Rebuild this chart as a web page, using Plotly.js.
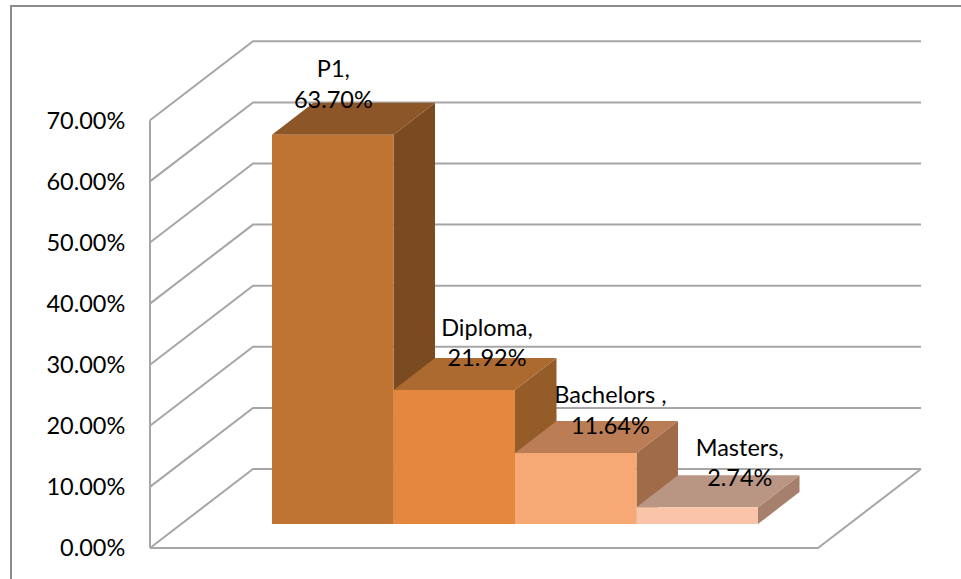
<!DOCTYPE html>
<html><head><meta charset="utf-8">
<script src="https://cdn.plot.ly/plotly-3.0.1.min.js"></script>
<style>html,body{margin:0;padding:0;background:#fff}#c{width:961px;height:579px}</style>
</head><body><div id="c"></div>
<script>
// ---- data
const categories = ['P1,', 'Diploma,', 'Bachelors ,', 'Masters,'];
const values = [63.70, 21.92, 11.64, 2.74];
const tickVals = [0, 10, 20, 30, 40, 50, 60, 70];
const tickLabels = ['0.00%', '10.00%', '20.00%', '30.00%', '40.00%', '50.00%', '60.00%', '70.00%'];
const frontColors = ['#BF7434', '#E5883F', '#F6A875', '#FAC4A8'];
const topColors = ['#8D5628', '#AD6A30', '#BB7D55', '#B99583'];
const sideColors = ['#7A4A20', '#945C29', '#A06B48', '#A67F6D'];

// ---- oblique projection, in axis units (x: one bar slot, y: percent points)
const W = 961, H = 579, pxPerSlot = 121.5, pxPerPct = 6.11, zeroPx = 548, barLeftPx = 272;
const toX = px => (px - barLeftPx) / pxPerSlot;
const depthX = 103 / pxPerSlot, depthY = 79 / pxPerPct;
const barDepthX = 41.5 / pxPerSlot, barDepthY = 32 / pxPerPct;
const wallLeft = toX(150), wallRight = toX(818);
const barBase = 24 / pxPerPct;
const labelLift = [48, 45, 40, 42].map(p => p / pxPerPct);
const labelShift = [0.005, 0.27, 0.285, 0.35];
const ink = '#000000', gridColor = '#A6A6A6', fontName = 'Lato, Carlito, sans-serif', fontSize = 23.5;

const traces = [];
// walls, floor and gridlines
const gx = [], gy = [];
tickVals.forEach(v => {
  gx.push(wallLeft, wallLeft + depthX, wallRight + depthX, null);
  gy.push(v, v + depthY, v + depthY, null);
});
gx.push(wallLeft, wallLeft, null, wallLeft, wallRight, wallRight + depthX);
gy.push(0, tickVals[tickVals.length - 1], null, 0, 0, depthY);
traces.push({x: gx, y: gy, mode: 'lines', line: {color: gridColor, width: 2}, hoverinfo: 'skip', showlegend: false, cliponaxis: false});

// bars, back to front from left to right
function face(xs, ys, color) {
  traces.push({x: xs, y: ys, mode: 'lines', fill: 'toself', fillcolor: color, line: {width: 0, color: color}, hoverinfo: 'skip', showlegend: false});
}
values.forEach((v, i) => {
  const l = i, r = i + 1, b = barBase, t = barBase + v;
  face([r, r + barDepthX, r + barDepthX, r, r], [b, b + barDepthY, t + barDepthY, t, b], sideColors[i]);
  face([l, r, r + barDepthX, l + barDepthX, l], [t, t, t + barDepthY, t + barDepthY, t], topColors[i]);
  face([l, r, r, l, l], [b, b, t, t, b], frontColors[i]);
});

// data labels
traces.push({
  x: values.map((v, i) => i + 0.5 + labelShift[i]),
  y: values.map((v, i) => barBase + v + labelLift[i]),
  text: values.map((v, i) => categories[i] + '<br>' + v.toFixed(2) + '%'),
  mode: 'text', textposition: 'middle center', textfont: {family: fontName, size: fontSize, color: ink},
  hoverinfo: 'skip', showlegend: false, cliponaxis: false
});

const layout = {
  width: W, height: H,
  margin: {l: 0, r: 0, t: 0, b: 0},
  paper_bgcolor: '#ffffff', plot_bgcolor: 'rgba(0,0,0,0)',
  showlegend: false,
  xaxis: {range: [toX(0), toX(W)], visible: false, fixedrange: true},
  yaxis: {
    range: [(zeroPx - H) / pxPerPct, zeroPx / pxPerPct],
    anchor: 'free', position: 150 / W,
    tickmode: 'array', tickvals: tickVals, ticktext: tickLabels,
    ticks: 'outside', ticklen: 20, tickcolor: 'rgba(0,0,0,0)',
    showgrid: false, zeroline: false, showline: false, fixedrange: true,
    tickfont: {family: fontName, size: fontSize, color: ink}
  },
  shapes: [{
    type: 'path', xref: 'paper', yref: 'paper', layer: 'below',
    path: 'M ' + (11 / W) + ' 0 L ' + (11 / W) + ' ' + (1 - 6 / H) + ' L 1 ' + (1 - 6 / H),
    line: {color: '#8C8C8C', width: 2}
  }]
};
Plotly.newPlot('c', traces, layout, {displayModeBar: false, staticPlot: true});
</script></body></html>
